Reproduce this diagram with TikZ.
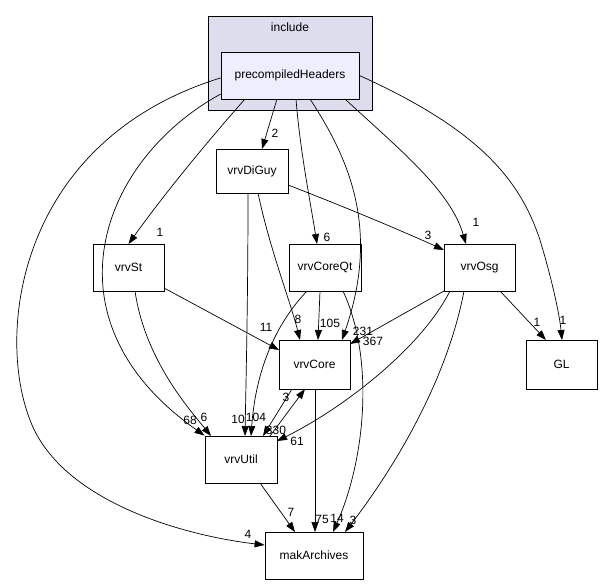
\documentclass[tikz,border=0pt]{standalone}
\usepackage{fontspec}
\setmainfont{Liberation Sans}
\usetikzlibrary{arrows.meta}
\begin{document}
\begin{tikzpicture}[x=1pt,y=-1pt,font=\fontsize{12}{14}\selectfont,
 box/.style={draw,line width=0.8pt,fill=white,minimum width=#1,minimum height=47pt,inner sep=0pt},
 e/.style={draw,line width=0.7pt,-{Triangle[length=10pt,width=7pt]}},
 lb/.style={inner sep=0pt,font=\fontsize{12}{14}\selectfont}]
\useasboundingbox (0,0) rectangle (604,585);
\fill[fill={rgb,255:red,221;green,221;blue,238}] (208,16) rectangle (372,110);
\draw[line width=0.8pt] (208,16) rectangle (372,110);
\node (inc) at (290,27) {include};
\node[box=138pt,fill={rgb,255:red,238;green,238;blue,255}] (pch) at (290,75.5) {precompiledHeaders};
\node[box=72pt,minimum height=44pt] (dg) at (252,171) {vrvDiGuy};
\node[box=71pt] (st) at (128.5,267.5) {vrvSt};
\node[box=72pt] (cqt) at (325,267.5) {vrvCoreQt};
\node[box=71pt] (osg) at (479.5,267.5) {vrvOsg};
\node[box=71pt,minimum height=49pt] (gl) at (561.5,364.5) {GL};
\node[box=71pt,minimum height=49pt] (core) at (314.5,364.5) {vrvCore};
\node[box=72pt] (ut) at (241,459.5) {vrvUtil};
\node[box=98pt] (mak) at (314,555.5) {makArchives};

\path[e] (pch.182) .. controls (20,140) and (-5,330) .. (30,420) .. controls (60,500) and (180,535) .. (mak.west |- 0,545);
\path[e] (pch.195) .. controls (100,160) and (40,320) .. (ut.north west);
\path[e] (245,99) .. controls (200,150) and (160,200) .. (st.north |- 0,244) ;
\path[e] (277,99) -- (262,149);
\path[e] (296,99) .. controls (300,150) and (310,200) .. (317,244);
\path[e] (310,99) .. controls (350,160) and (380,230) .. (342,340);
\path[e] (345,99) .. controls (400,150) and (450,190) .. (466,244);
\path[e] (pch.east) .. controls (480,130) and (520,180) .. (540,240) .. controls (555,290) and (560,320) .. (562,340);

\path[e] (288,185) .. controls (340,205) and (400,230) .. (444,250);
\path[e] (258,193) .. controls (270,250) and (290,300) .. (300,340);
\path[e] (248,193) .. controls (248,300) and (246,380) .. (245,436);
\path[e] (164,288) -- (279,350);
\path[e] (135,291) .. controls (145,360) and (190,410) .. (211,436);
\path[e] (320,291) -- (318,340);
\path[e] (307,291) .. controls (270,330) and (255,380) .. (251,436);
\path[e] (343,291) .. controls (375,360) and (365,460) .. (333,532);
\path[e] (444,291) -- (350,344);
\path[e] (450,291) .. controls (420,350) and (340,410) .. (277,441);
\path[e] (464,291) .. controls (445,390) and (385,480) .. (345,532);
\path[e] (500,291) -- (546,340);
\path[e] (292,389) -- (263,436);
\path[e] (270,436) -- (305,389);
\path[e] (315,389) -- (315,532);
\path[e] (260,483) -- (295,532);

\node[lb] (l1) at (248,534) {4};
\node[lb] (l2) at (190,420) {68};
\node[lb] (l3) at (160,232) {1};
\node[lb] (l4) at (275,133) {2};
\node[lb] (l5) at (327,237) {6};
\node[lb] (l6) at (363,331) {231};
\node[lb] (l7) at (476,222) {1};
\node[lb] (l8) at (563,320) {1};
\node[lb] (l9) at (428,235) {3};
\node[lb] (l10) at (298,319) {8};
\node[lb] (l11) at (238,419) {10};
\node[lb] (l12) at (266,327) {11};
\node[lb] (l13) at (204,417) {6};
\node[lb] (l14) at (330,323) {105};
\node[lb] (l15) at (256,417) {104};
\node[lb] (l16) at (337,518) {14};
\node[lb] (l17) at (373,341) {367};
\node[lb] (l18) at (297,441) {61};
\node[lb] (l19) at (353,520) {3};
\node[lb] (l20) at (537,322) {1};
\node[lb] (l21) at (276,430) {330};
\node[lb] (l22) at (286,397) {3};
\node[lb] (l23) at (322,519) {75};
\node[lb] (l24) at (291,512) {7};
\end{tikzpicture}
\end{document}
